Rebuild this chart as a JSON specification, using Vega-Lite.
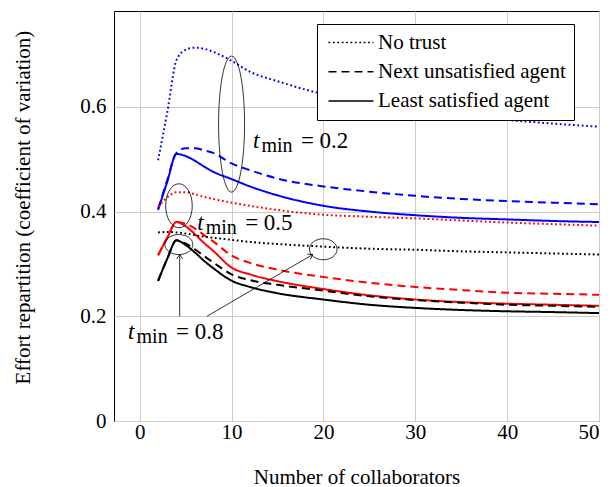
{
"$schema":"https://vega.github.io/schema/vega-lite/v6.json",
"width":485,"height":410,
"autosize":{"type":"none"},
"padding":{"left":114,"top":11,"right":15,"bottom":66},
"config":{"font":"Liberation Serif, Times New Roman, serif","view":{"stroke":"black","strokeWidth":1},"background":"white"},
"datasets":{
"curves":[
{"n":2,"v":0.498,"strategy":"No trust","tmin":"0.2"},{"n":3,"v":0.59,"strategy":"No trust","tmin":"0.2"},{"n":4,"v":0.689,"strategy":"No trust","tmin":"0.2"},{"n":5,"v":0.709,"strategy":"No trust","tmin":"0.2"},{"n":6,"v":0.713,"strategy":"No trust","tmin":"0.2"},{"n":7,"v":0.711,"strategy":"No trust","tmin":"0.2"},{"n":8,"v":0.705,"strategy":"No trust","tmin":"0.2"},{"n":10,"v":0.688,"strategy":"No trust","tmin":"0.2"},{"n":12,"v":0.667,"strategy":"No trust","tmin":"0.2"},{"n":15,"v":0.649,"strategy":"No trust","tmin":"0.2"},{"n":20,"v":0.624,"strategy":"No trust","tmin":"0.2"},{"n":25,"v":0.607,"strategy":"No trust","tmin":"0.2"},{"n":30,"v":0.594,"strategy":"No trust","tmin":"0.2"},{"n":35,"v":0.584,"strategy":"No trust","tmin":"0.2"},{"n":40,"v":0.575,"strategy":"No trust","tmin":"0.2"},{"n":45,"v":0.568,"strategy":"No trust","tmin":"0.2"},{"n":50,"v":0.562,"strategy":"No trust","tmin":"0.2"},
{"n":2,"v":0.405,"strategy":"Next unsatisfied agent","tmin":"0.2"},{"n":3,"v":0.46,"strategy":"Next unsatisfied agent","tmin":"0.2"},{"n":4,"v":0.512,"strategy":"Next unsatisfied agent","tmin":"0.2"},{"n":5,"v":0.521,"strategy":"Next unsatisfied agent","tmin":"0.2"},{"n":6,"v":0.521,"strategy":"Next unsatisfied agent","tmin":"0.2"},{"n":7,"v":0.517,"strategy":"Next unsatisfied agent","tmin":"0.2"},{"n":8,"v":0.512,"strategy":"Next unsatisfied agent","tmin":"0.2"},{"n":10,"v":0.492,"strategy":"Next unsatisfied agent","tmin":"0.2"},{"n":12,"v":0.479,"strategy":"Next unsatisfied agent","tmin":"0.2"},{"n":15,"v":0.463,"strategy":"Next unsatisfied agent","tmin":"0.2"},{"n":20,"v":0.448,"strategy":"Next unsatisfied agent","tmin":"0.2"},{"n":25,"v":0.438,"strategy":"Next unsatisfied agent","tmin":"0.2"},{"n":30,"v":0.43,"strategy":"Next unsatisfied agent","tmin":"0.2"},{"n":35,"v":0.424,"strategy":"Next unsatisfied agent","tmin":"0.2"},{"n":40,"v":0.42,"strategy":"Next unsatisfied agent","tmin":"0.2"},{"n":45,"v":0.417,"strategy":"Next unsatisfied agent","tmin":"0.2"},{"n":50,"v":0.414,"strategy":"Next unsatisfied agent","tmin":"0.2"},
{"n":2,"v":0.403,"strategy":"Least satisfied agent","tmin":"0.2"},{"n":3,"v":0.457,"strategy":"Least satisfied agent","tmin":"0.2"},{"n":4,"v":0.51,"strategy":"Least satisfied agent","tmin":"0.2"},{"n":5,"v":0.506,"strategy":"Least satisfied agent","tmin":"0.2"},{"n":6,"v":0.497,"strategy":"Least satisfied agent","tmin":"0.2"},{"n":7,"v":0.486,"strategy":"Least satisfied agent","tmin":"0.2"},{"n":8,"v":0.476,"strategy":"Least satisfied agent","tmin":"0.2"},{"n":10,"v":0.462,"strategy":"Least satisfied agent","tmin":"0.2"},{"n":12,"v":0.448,"strategy":"Least satisfied agent","tmin":"0.2"},{"n":15,"v":0.431,"strategy":"Least satisfied agent","tmin":"0.2"},{"n":20,"v":0.411,"strategy":"Least satisfied agent","tmin":"0.2"},{"n":25,"v":0.4,"strategy":"Least satisfied agent","tmin":"0.2"},{"n":30,"v":0.393,"strategy":"Least satisfied agent","tmin":"0.2"},{"n":35,"v":0.388,"strategy":"Least satisfied agent","tmin":"0.2"},{"n":40,"v":0.385,"strategy":"Least satisfied agent","tmin":"0.2"},{"n":45,"v":0.382,"strategy":"Least satisfied agent","tmin":"0.2"},{"n":50,"v":0.38,"strategy":"Least satisfied agent","tmin":"0.2"},
{"n":2,"v":0.409,"strategy":"No trust","tmin":"0.5"},{"n":3,"v":0.427,"strategy":"No trust","tmin":"0.5"},{"n":4,"v":0.437,"strategy":"No trust","tmin":"0.5"},{"n":5,"v":0.437,"strategy":"No trust","tmin":"0.5"},{"n":6,"v":0.433,"strategy":"No trust","tmin":"0.5"},{"n":7,"v":0.428,"strategy":"No trust","tmin":"0.5"},{"n":8,"v":0.424,"strategy":"No trust","tmin":"0.5"},{"n":10,"v":0.417,"strategy":"No trust","tmin":"0.5"},{"n":12,"v":0.411,"strategy":"No trust","tmin":"0.5"},{"n":15,"v":0.403,"strategy":"No trust","tmin":"0.5"},{"n":20,"v":0.394,"strategy":"No trust","tmin":"0.5"},{"n":25,"v":0.39,"strategy":"No trust","tmin":"0.5"},{"n":30,"v":0.387,"strategy":"No trust","tmin":"0.5"},{"n":35,"v":0.383,"strategy":"No trust","tmin":"0.5"},{"n":40,"v":0.379,"strategy":"No trust","tmin":"0.5"},{"n":45,"v":0.376,"strategy":"No trust","tmin":"0.5"},{"n":50,"v":0.373,"strategy":"No trust","tmin":"0.5"},
{"n":2,"v":0.3165,"strategy":"Next unsatisfied agent","tmin":"0.5"},{"n":3,"v":0.35,"strategy":"Next unsatisfied agent","tmin":"0.5"},{"n":4,"v":0.38,"strategy":"Next unsatisfied agent","tmin":"0.5"},{"n":5,"v":0.377,"strategy":"Next unsatisfied agent","tmin":"0.5"},{"n":6,"v":0.368,"strategy":"Next unsatisfied agent","tmin":"0.5"},{"n":7,"v":0.355,"strategy":"Next unsatisfied agent","tmin":"0.5"},{"n":8,"v":0.343,"strategy":"Next unsatisfied agent","tmin":"0.5"},{"n":10,"v":0.316,"strategy":"Next unsatisfied agent","tmin":"0.5"},{"n":12,"v":0.302,"strategy":"Next unsatisfied agent","tmin":"0.5"},{"n":15,"v":0.289,"strategy":"Next unsatisfied agent","tmin":"0.5"},{"n":20,"v":0.275,"strategy":"Next unsatisfied agent","tmin":"0.5"},{"n":25,"v":0.264,"strategy":"Next unsatisfied agent","tmin":"0.5"},{"n":30,"v":0.256,"strategy":"Next unsatisfied agent","tmin":"0.5"},{"n":35,"v":0.25,"strategy":"Next unsatisfied agent","tmin":"0.5"},{"n":40,"v":0.245,"strategy":"Next unsatisfied agent","tmin":"0.5"},{"n":45,"v":0.243,"strategy":"Next unsatisfied agent","tmin":"0.5"},{"n":50,"v":0.241,"strategy":"Next unsatisfied agent","tmin":"0.5"},
{"n":2,"v":0.3165,"strategy":"Least satisfied agent","tmin":"0.5"},{"n":3,"v":0.35,"strategy":"Least satisfied agent","tmin":"0.5"},{"n":4,"v":0.38,"strategy":"Least satisfied agent","tmin":"0.5"},{"n":5,"v":0.372,"strategy":"Least satisfied agent","tmin":"0.5"},{"n":6,"v":0.357,"strategy":"Least satisfied agent","tmin":"0.5"},{"n":7,"v":0.34,"strategy":"Least satisfied agent","tmin":"0.5"},{"n":8,"v":0.325,"strategy":"Least satisfied agent","tmin":"0.5"},{"n":10,"v":0.293,"strategy":"Least satisfied agent","tmin":"0.5"},{"n":12,"v":0.28,"strategy":"Least satisfied agent","tmin":"0.5"},{"n":15,"v":0.267,"strategy":"Least satisfied agent","tmin":"0.5"},{"n":20,"v":0.252,"strategy":"Least satisfied agent","tmin":"0.5"},{"n":25,"v":0.24,"strategy":"Least satisfied agent","tmin":"0.5"},{"n":30,"v":0.232,"strategy":"Least satisfied agent","tmin":"0.5"},{"n":35,"v":0.227,"strategy":"Least satisfied agent","tmin":"0.5"},{"n":40,"v":0.224,"strategy":"Least satisfied agent","tmin":"0.5"},{"n":45,"v":0.222,"strategy":"Least satisfied agent","tmin":"0.5"},{"n":50,"v":0.22,"strategy":"Least satisfied agent","tmin":"0.5"},
{"n":2,"v":0.36,"strategy":"No trust","tmin":"0.8"},{"n":3,"v":0.361,"strategy":"No trust","tmin":"0.8"},{"n":4,"v":0.36,"strategy":"No trust","tmin":"0.8"},{"n":5,"v":0.358,"strategy":"No trust","tmin":"0.8"},{"n":6,"v":0.355,"strategy":"No trust","tmin":"0.8"},{"n":7,"v":0.352,"strategy":"No trust","tmin":"0.8"},{"n":8,"v":0.35,"strategy":"No trust","tmin":"0.8"},{"n":10,"v":0.346,"strategy":"No trust","tmin":"0.8"},{"n":12,"v":0.342,"strategy":"No trust","tmin":"0.8"},{"n":15,"v":0.338,"strategy":"No trust","tmin":"0.8"},{"n":20,"v":0.333,"strategy":"No trust","tmin":"0.8"},{"n":25,"v":0.329,"strategy":"No trust","tmin":"0.8"},{"n":30,"v":0.327,"strategy":"No trust","tmin":"0.8"},{"n":35,"v":0.324,"strategy":"No trust","tmin":"0.8"},{"n":40,"v":0.322,"strategy":"No trust","tmin":"0.8"},{"n":45,"v":0.32,"strategy":"No trust","tmin":"0.8"},{"n":50,"v":0.318,"strategy":"No trust","tmin":"0.8"},
{"n":2,"v":0.2675,"strategy":"Next unsatisfied agent","tmin":"0.8"},{"n":3,"v":0.31,"strategy":"Next unsatisfied agent","tmin":"0.8"},{"n":4,"v":0.345,"strategy":"Next unsatisfied agent","tmin":"0.8"},{"n":5,"v":0.339,"strategy":"Next unsatisfied agent","tmin":"0.8"},{"n":6,"v":0.328,"strategy":"Next unsatisfied agent","tmin":"0.8"},{"n":7,"v":0.315,"strategy":"Next unsatisfied agent","tmin":"0.8"},{"n":8,"v":0.303,"strategy":"Next unsatisfied agent","tmin":"0.8"},{"n":10,"v":0.28,"strategy":"Next unsatisfied agent","tmin":"0.8"},{"n":12,"v":0.269,"strategy":"Next unsatisfied agent","tmin":"0.8"},{"n":15,"v":0.26,"strategy":"Next unsatisfied agent","tmin":"0.8"},{"n":20,"v":0.249,"strategy":"Next unsatisfied agent","tmin":"0.8"},{"n":25,"v":0.238,"strategy":"Next unsatisfied agent","tmin":"0.8"},{"n":30,"v":0.231,"strategy":"Next unsatisfied agent","tmin":"0.8"},{"n":35,"v":0.226,"strategy":"Next unsatisfied agent","tmin":"0.8"},{"n":40,"v":0.222,"strategy":"Next unsatisfied agent","tmin":"0.8"},{"n":45,"v":0.22,"strategy":"Next unsatisfied agent","tmin":"0.8"},{"n":50,"v":0.218,"strategy":"Next unsatisfied agent","tmin":"0.8"},
{"n":2,"v":0.2675,"strategy":"Least satisfied agent","tmin":"0.8"},{"n":3,"v":0.31,"strategy":"Least satisfied agent","tmin":"0.8"},{"n":4,"v":0.345,"strategy":"Least satisfied agent","tmin":"0.8"},{"n":5,"v":0.336,"strategy":"Least satisfied agent","tmin":"0.8"},{"n":6,"v":0.322,"strategy":"Least satisfied agent","tmin":"0.8"},{"n":7,"v":0.306,"strategy":"Least satisfied agent","tmin":"0.8"},{"n":8,"v":0.292,"strategy":"Least satisfied agent","tmin":"0.8"},{"n":10,"v":0.268,"strategy":"Least satisfied agent","tmin":"0.8"},{"n":12,"v":0.256,"strategy":"Least satisfied agent","tmin":"0.8"},{"n":15,"v":0.244,"strategy":"Least satisfied agent","tmin":"0.8"},{"n":20,"v":0.232,"strategy":"Least satisfied agent","tmin":"0.8"},{"n":25,"v":0.222,"strategy":"Least satisfied agent","tmin":"0.8"},{"n":30,"v":0.216,"strategy":"Least satisfied agent","tmin":"0.8"},{"n":35,"v":0.212,"strategy":"Least satisfied agent","tmin":"0.8"},{"n":40,"v":0.2095,"strategy":"Least satisfied agent","tmin":"0.8"},{"n":45,"v":0.208,"strategy":"Least satisfied agent","tmin":"0.8"},{"n":50,"v":0.206,"strategy":"Least satisfied agent","tmin":"0.8"}
],
"ellipses":[
{"id":"e1","n":10,"v":0.567},
{"id":"e2","n":4.27,"v":0.411},
{"id":"e3","n":4.26,"v":0.337},
{"id":"e4","n":19.98,"v":0.328}
],
"arrows":[
{"id":"a1","n":4.35,"v":0.2,"n2":4.35,"v2":0.318},
{"id":"a2","n":7.32,"v":0.2,"n2":18.84,"v2":0.318}
],
"labels":[
{"n":12.32,"v":0.5215,"rest":"= 0.2"},
{"n":6.25,"v":0.3643,"rest":"= 0.5"},
{"n":-1.27,"v":0.156,"rest":"= 0.8"}
]
},
"layer":[
{
"data":{"name":"curves"},
"mark":{"type":"line","strokeWidth":2,"interpolate":"monotone"},
"encoding":{
"x":{"field":"n","type":"quantitative","scale":{"domain":[-2.8,50],"nice":false,"zero":false},
"axis":{"title":"Number of collaborators","values":[0,10,20,30,40,50],"grid":true,"gridColor":"#cccccc","gridWidth":1,"ticks":false,"domain":false,"labelFont":"Liberation Serif, Times New Roman, serif","labelFontSize":21,"labelColor":"black","labelPadding":0,"titleFont":"Liberation Serif, Times New Roman, serif","titleFontSize":21,"titleFontWeight":"normal","titleColor":"black","titleY":62,"titleBaseline":"alphabetic"}},
"y":{"field":"v","type":"quantitative","scale":{"domain":[0,0.783],"nice":false,"zero":false},
"axis":{"title":"Effort repartition (coefficient of variation)","values":[0,0.2,0.4,0.6],"labelExpr":"datum.value == 0 ? '0' : format(datum.value, '.1f')","grid":true,"gridColor":"#cccccc","gridWidth":1,"ticks":false,"domain":false,"labelFont":"Liberation Serif, Times New Roman, serif","labelFontSize":21,"labelColor":"black","labelPadding":8,"titleFont":"Liberation Serif, Times New Roman, serif","titleFontSize":21,"titleFontWeight":"normal","titleColor":"black","titleX":-91,"titleY":196,"titleBaseline":"middle","titleAlign":"center"}},
"color":{"field":"tmin","type":"nominal","scale":{"domain":["0.2","0.5","0.8"],"range":["#0000ff","#ff0000","#000000"]},"legend":null},
"strokeDash":{"field":"strategy","type":"nominal","scale":{"domain":["No trust","Next unsatisfied agent","Least satisfied agent"],"range":[[1.8,2.6],[8,5],[1,0]]},
"legend":{"title":null,"orient":"none","legendX":203,"legendY":13,"symbolType":"M-2.5,0H2.5","symbolSize":324,"symbolOffset":15.5,"symbolStrokeColor":"black","symbolStrokeWidth":1.5,"labelFont":"Liberation Serif, Times New Roman, serif","labelFontSize":21,"labelColor":"black","labelLimit":400,"labelOffset":16.5,"strokeColor":"black","fillColor":"white","padding":8,"rowPadding":7.3}}
}
},
{
"data":{"name":"ellipses"},
"mark":{"type":"point","filled":false,"stroke":"black","strokeWidth":0.8,"size":4,"opacity":1},
"encoding":{
"x":{"field":"n","type":"quantitative","scale":{"domain":[-2.8,50],"nice":false,"zero":false}},
"y":{"field":"v","type":"quantitative","scale":{"domain":[0,0.783],"nice":false,"zero":false}},
"shape":{"field":"id","type":"nominal","legend":null,"scale":{"domain":["e1","e2","e3","e4"],"range":[
"M13,0C13,37.56 7.18,68 0,68C-7.18,68 -13,37.56 -13,0C-13,-37.56 -7.18,-68 0,-68C7.18,-68 13,-37.56 13,0Z",
"M13.3,0C13.3,12.15 7.35,22 0,22C-7.35,22 -13.3,12.15 -13.3,0C-13.3,-12.15 -7.35,-22 0,-22C7.35,-22 13.3,-12.15 13.3,0Z",
"M14,0C14,5.52 7.73,10 0,10C-7.73,10 -14,5.52 -14,0C-14,-5.52 -7.73,-10 0,-10C7.73,-10 14,-5.52 14,0Z",
"M13.8,0C13.8,5.8 7.62,10.5 0,10.5C-7.62,10.5 -13.8,5.8 -13.8,0C-13.8,-5.8 -7.62,-10.5 0,-10.5C7.62,-10.5 13.8,-5.8 13.8,0Z"]}}
}
},
{
"data":{"name":"arrows"},
"mark":{"type":"rule","stroke":"black","strokeWidth":0.8},
"encoding":{
"x":{"field":"n","type":"quantitative"},
"y":{"field":"v","type":"quantitative"},
"x2":{"field":"n2"},
"y2":{"field":"v2"}
}
},
{
"data":{"name":"arrows"},
"transform":[{"filter":"datum.id == 'a1'"}],
"mark":{"type":"point","filled":false,"stroke":"black","strokeWidth":0.8,"size":4,"opacity":1,"shape":"M-3,4.5L0,0L3,4.5","angle":0},
"encoding":{"x":{"field":"n2","type":"quantitative"},"y":{"field":"v2","type":"quantitative"}}
},
{
"data":{"name":"arrows"},
"transform":[{"filter":"datum.id == 'a2'"}],
"mark":{"type":"point","filled":false,"stroke":"black","strokeWidth":0.8,"size":4,"opacity":1,"shape":"M-3,4.5L0,0L3,4.5","angle":60},
"encoding":{"x":{"field":"n2","type":"quantitative"},"y":{"field":"v2","type":"quantitative"}}
},
{
"data":{"name":"labels"},
"mark":{"type":"text","text":"t","font":"Liberation Serif, Times New Roman, serif","fontStyle":"italic","fontSize":23,"align":"left","baseline":"alphabetic","color":"black"},
"encoding":{"x":{"field":"n","type":"quantitative"},"y":{"field":"v","type":"quantitative"}}
},
{
"data":{"name":"labels"},
"mark":{"type":"text","text":"min","font":"Liberation Serif, Times New Roman, serif","fontSize":20,"align":"left","baseline":"alphabetic","color":"black","dx":8.5,"dy":4},
"encoding":{"x":{"field":"n","type":"quantitative"},"y":{"field":"v","type":"quantitative"}}
},
{
"data":{"name":"labels"},
"mark":{"type":"text","font":"Liberation Serif, Times New Roman, serif","fontSize":23,"align":"left","baseline":"alphabetic","color":"black","dx":48},
"encoding":{"x":{"field":"n","type":"quantitative"},"y":{"field":"v","type":"quantitative"},"text":{"field":"rest"}}
}
]
}
